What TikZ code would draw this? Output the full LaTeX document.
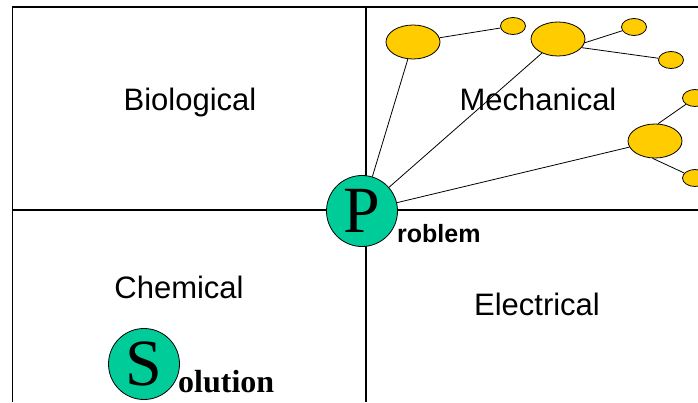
\documentclass[tikz,border=0pt]{standalone}
\usepackage{fontspec}
\setmainfont{Liberation Serif}
\setsansfont{Liberation Sans}
\usetikzlibrary{shapes.geometric}
\definecolor{solgreen}{RGB}{0,204,153}
\definecolor{dotyellow}{RGB}{255,204,0}

\begin{document}
\begin{tikzpicture}[
    x=1pt, y=-1pt,
    field/.style={
        anchor=base,
        font=\sffamily\fontsize{31}{37}\selectfont
    },
    bigdot/.style={
        ellipse, draw, fill=dotyellow,
        line width=0.8pt,
        inner sep=0pt,
        minimum width=54pt,
        minimum height=34pt
    },
    smalldot/.style={
        ellipse, draw, fill=dotyellow,
        line width=0.8pt,
        inner sep=0pt,
        minimum width=25pt,
        minimum height=17pt
    },
    letter/.style={
        circle, draw, fill=solgreen,
        line width=0.8pt,
        inner sep=0pt,
        minimum size=71pt,
        font=\fontsize{66}{66}\selectfont
    },
    tail/.style={anchor=base west, inner sep=0pt},
    link/.style={line width=0.8pt},
    grid line/.style={line width=1.6pt}
]
    \useasboundingbox (0,0) rectangle (698,402);

    \draw[grid line] (698,7) -- (12.5,7) -- (12.5,402);
    \draw[grid line] (12.5,210) -- (698,210);
    \draw[grid line] (366,7) -- (366,402);

    \node[field] (bio) at (190,110) {Biological};
    \node[field] (mech) at (538,110) {Mechanical};
    \node[field] (chem) at (179,298) {Chemical};
    \node[field] (elec) at (537,315) {Electrical};

    \node[letter] (prob) at (362,211) {P};
    \node[tail, font=\sffamily\bfseries\fontsize{25}{30}\selectfont]
        (probtext) at (397,242) {roblem};

    \node[letter] (sol) at (144,364) {S};
    \node[tail, font=\bfseries\fontsize{32}{38}\selectfont]
        (soltext) at (178,392) {olution};

    \node[bigdot] (m1) at (413,42) {};
    \node[smalldot] (m1a) at (513,26) {};
    \node[bigdot] (m2) at (558,39) {};
    \node[smalldot] (m2a) at (634,27) {};
    \node[smalldot] (m2b) at (671,60) {};
    \node[bigdot] (m3) at (655,141) {};
    \node[smalldot] (m3a) at (695,98) {};
    \node[smalldot] (m3b) at (695,178) {};

    \draw[link] (prob) -- (m1);
    \draw[link] (prob) -- (m2);
    \draw[link] (prob) -- (m3);
    \draw[link] (m1) -- (m1a);
    \draw[link] (m2.-8) -- (m2a);
    \draw[link] (m2.-20) -- (m2b);
    \draw[link] (m3.80) -- (m3a);
    \draw[link] (m3.262) -- (m3b);
\end{tikzpicture}
\end{document}
